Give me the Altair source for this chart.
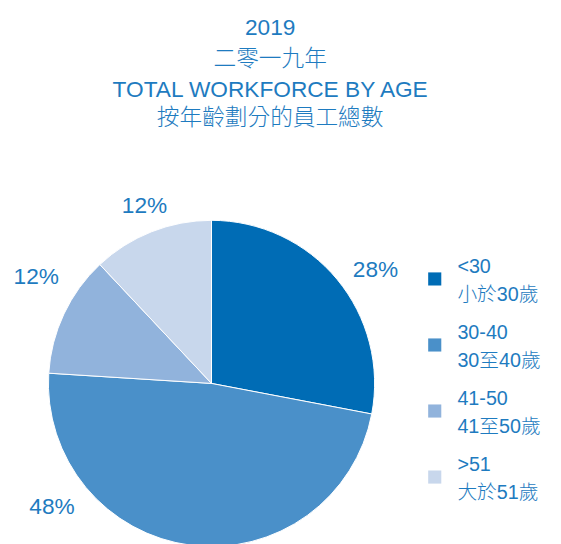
import altair as alt
import pandas as pd

# ---- data ----
categories = ["<30", "30-40", "41-50", ">51"]
categories_zh = ["小於30歲", "30至40歲", "41至50歲", "大於51歲"]
values = [28, 48, 12, 12]
pct_labels = ["28%", "48%", "12%", "12%"]
colors = ["#006cb5", "#4a90c9", "#91b3dc", "#c8d7ec"]

# label placement inside each slice (fraction of slice angle, distance from centre)
label_frac = [0.55, 0.76, 0.64, 0.52]
label_r = [202, 205, 208, 192]

TXT = "#1e7bc0"
FONT = "Liberation Sans, Noto Sans CJK TC"

starts = [sum(values[:i]) for i in range(len(values))]
df = pd.DataFrame({
    "cat": categories,
    "zh": categories_zh,
    "value": values,
    "pct": pct_labels,
    "idx": list(range(len(values))),
    "lt": [s + f * v for s, f, v in zip(starts, label_frac, values)],
    "lr": label_r,
})

CX, CY = 202.5, 247
theta_scale = alt.Scale(domain=[0, 100])
color_scale = alt.Scale(domain=categories, range=colors)

base = alt.Chart(df)

pie = base.mark_arc(radius=165.5, stroke="white", strokeWidth=1).encode(
    theta=alt.Theta("value:Q", stack=True, scale=theta_scale),
    color=alt.Color("cat:N", scale=color_scale, legend=None),
    order=alt.Order("idx:Q"),
    x=alt.value(CX),
    y=alt.value(CY),
)

labels = base.mark_text(font=FONT, fontSize=23, color=TXT, align="center",
                        baseline="middle", fontWeight=300).encode(
    theta=alt.Theta("lt:Q", stack=False, scale=theta_scale),
    radius=alt.Radius("lr:Q", scale=None),
    text="pct:N",
    x=alt.value(CX),
    y=alt.value(CY),
)

ly = alt.Y("cat:N", scale=alt.Scale(type="point", domain=categories,
                                    range=[141, 342], padding=0), axis=None)

squares = base.mark_square(size=177, opacity=1).encode(
    x=alt.value(429),
    y=ly,
    color=alt.Color("cat:N", scale=color_scale, legend=None),
)

leg_en = base.mark_text(font=FONT, fontSize=20, color=TXT, align="left",
                        baseline="middle", dy=-12, fontWeight=300).encode(
    x=alt.value(452),
    y=ly,
    text="cat:N",
)
leg_zh = base.mark_text(font=FONT, fontSize=20, color=TXT, align="left",
                        baseline="middle", dy=16, fontWeight=300).encode(
    x=alt.value(452),
    y=ly,
    text="zh:N",
)

chart = alt.layer(pie, labels, squares, leg_en, leg_zh).properties(
    width=524,
    height=406,
    padding={"left": 4, "top": 130, "right": 25, "bottom": 0},
    autosize=alt.AutoSizeParams(type="none"),
    title=alt.TitleParams(
        text=["2019", "二零一九年"],
        subtitle=["TOTAL WORKFORCE BY AGE", "按年齡劃分的員工總數"],
        anchor="middle",
        frame="group",
        font=FONT,
        fontSize=23,
        fontWeight=300,
        lineHeight=32,
        color=TXT,
        subtitleFont=FONT,
        subtitleFontSize=23,
        subtitleFontWeight=300,
        subtitleLineHeight=29,
        subtitleColor=TXT,
        subtitlePadding=8,
        offset=10,
    ),
).configure_view(stroke=None)

chart.save("out.html", embed_options={"renderer": "svg", "actions": False})
